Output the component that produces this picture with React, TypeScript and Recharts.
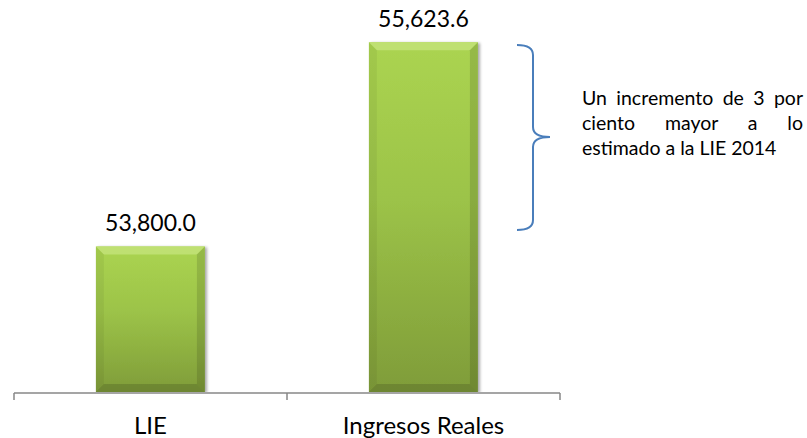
import React, { useLayoutEffect, useRef, useState } from "react";
import { BarChart, Bar, XAxis, YAxis, LabelList } from "recharts";

const categories = ["LIE", "Ingresos Reales"];
const values = [53800.0, 55623.6];
const yDomain = [52500, 56000];
const frameTicks = [0, 1, 2];
const noteLines = ["Un incremento de 3 por", "ciento mayor a lo", "estimado a la LIE 2014"];

const FONT = "Lato, 'Noto Sans', sans-serif";

const data = categories.map((name, i) => ({ name, value: values[i], pos: i + 0.5 }));

function BevelBar(props: any) {
  const { x, y, width, height } = props;
  if (!height || height <= 0) return null;
  const b = 8;
  return (
    <g filter="url(#barShadow)">
      <rect x={x} y={y} width={width} height={height} fill="url(#barGrad)" />
      <polygon
        points={`${x},${y} ${x + width},${y} ${x + width - b},${y + b} ${x + b},${y + b}`}
        fill="#c6e47e"
        opacity={0.75}
      />
      <polygon
        points={`${x},${y} ${x + b},${y + b} ${x + b},${y + height - b} ${x},${y + height}`}
        fill="#000"
        opacity={0.05}
      />
      <polygon
        points={`${x + width},${y} ${x + width - b},${y + b} ${x + width - b},${y + height - b} ${x + width},${y + height}`}
        fill="#000"
        opacity={0.12}
      />
      <polygon
        points={`${x},${y + height} ${x + b},${y + height - b} ${x + width - b},${y + height - b} ${x + width},${y + height}`}
        fill="#000"
        opacity={0.14}
      />
    </g>
  );
}

const fmt = (v: any) =>
  Number(v).toLocaleString("en-US", { minimumFractionDigits: 1, maximumFractionDigits: 1 });

// justified note text, word spacing measured after mount
function Note() {
  const refs = useRef<(SVGTextElement | null)[]>([]);
  const [spacing, setSpacing] = useState<number[]>([0, 0, 0]);
  useLayoutEffect(() => {
    const next = noteLines.map((line, i) => {
      const el = refs.current[i];
      if (!el || i === noteLines.length - 1) return 0;
      const gaps = line.split(" ").length - 1;
      return (221 - el.getComputedTextLength()) / gaps;
    });
    setSpacing(next);
  }, []);
  return (
    <>
      {noteLines.map((line, i) => (
        <text
          key={i}
          ref={(el) => {
            refs.current[i] = el;
          }}
          x={582}
          y={105 + i * 25}
          fontSize={19.5}
          fontFamily={FONT}
          fill="#000"
          style={{ wordSpacing: spacing[i] }}
        >
          {line}
        </text>
      ))}
    </>
  );
}

export default function App() {
  return (
    <div style={{ position: "absolute", left: 0, top: 0, width: 807, height: 438, background: "#fff" }}>
      <BarChart
        width={807}
        height={438}
        data={data}
        margin={{ top: 0, right: 247, bottom: 0, left: 14 }}
        barCategoryGap="30%"
      >
        <defs>
          <linearGradient id="barGrad" x1="0" y1="0" x2="0" y2="1">
            <stop offset="0%" stopColor="#abd451" />
            <stop offset="45%" stopColor="#9cc348" />
            <stop offset="100%" stopColor="#7f9c39" />
          </linearGradient>
          <filter id="barShadow" x="-10%" y="-5%" width="125%" height="115%">
            <feDropShadow dx="2" dy="1" stdDeviation="1.5" floodColor="#000" floodOpacity="0.35" />
          </filter>
        </defs>
        <XAxis
          xAxisId="cat"
          dataKey="name"
          height={1}
          axisLine={false}
          tickLine={false}
          tickSize={7}
          tickMargin={18}
          interval={0}
          tick={{ fontSize: 24, fill: "#000", fontFamily: FONT }}
        />
        <XAxis
          xAxisId="frame"
          type="number"
          dataKey="pos"
          domain={[0, 2]}
          ticks={frameTicks}
          allowDataOverflow
          height={45}
          interval={0}
          tickFormatter={() => ""}
          tickSize={7}
          axisLine={{ stroke: "#878787", strokeWidth: 1.5 }}
          tickLine={{ stroke: "#878787", strokeWidth: 1.5 }}
        />
        <YAxis hide domain={yDomain} allowDataOverflow />
        <Bar dataKey="value" xAxisId="cat" shape={<BevelBar />} isAnimationActive={false}>
          <LabelList
            dataKey="value"
            position="top"
            offset={15}
            formatter={fmt as never}
            style={{ fontSize: 23, fill: "#000", fontFamily: FONT }}
          />
        </Bar>
      </BarChart>
      <svg
        width={807}
        height={438}
        style={{ position: "absolute", left: 0, top: 0, pointerEvents: "none" }}
      >
        <path
          d="M517,45 Q533,45 533,55 L533,127 Q533,137 550,137 Q533,137 533,147 L533,220 Q533,230 517,230"
          fill="none"
          stroke="#4a7ebb"
          strokeWidth={2}
        />
        <Note />
      </svg>
    </div>
  );
}
